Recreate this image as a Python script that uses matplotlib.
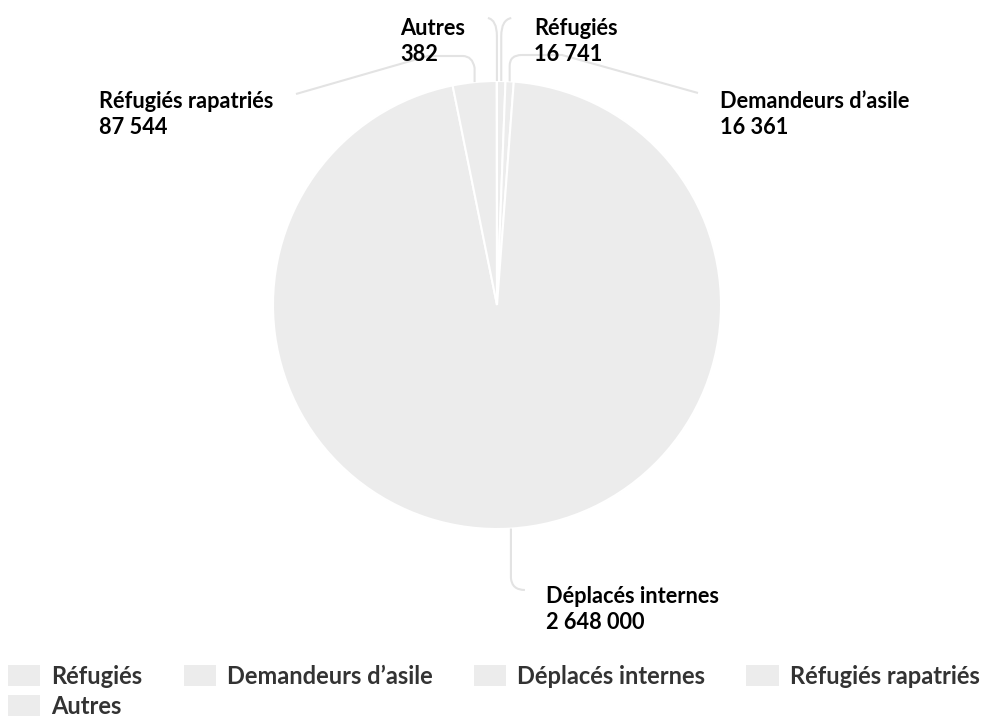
import matplotlib.pyplot as plt
from matplotlib.path import Path
from matplotlib.patches import PathPatch, Patch
import numpy as np

plt.rcParams['font.family'] = ['Lato', 'DejaVu Sans']

# data
categories = ["Réfugiés", "Demandeurs d’asile", "Déplacés internes", "Réfugiés rapatriés", "Autres"]
values = [16741, 16361, 2648000, 87544, 382]
value_labels = ["16 741", "16 361", "2 648 000", "87 544", "382"]

W, H = 986, 717
slice_color = "#ececec"
line_color = "#e3e3e3"


def Y(y):
    # pixel row (from top) -> axes y (from bottom)
    return H - y


fig = plt.figure(figsize=(W / 100, H / 100), dpi=100)
ax = fig.add_axes([0, 0, 1, 1])

cx, cy, r = 497, 305, 224
wedges, _ = ax.pie(values, colors=[slice_color] * len(values), startangle=90,
                   counterclock=False, center=(cx, Y(cy)), radius=r,
                   wedgeprops=dict(edgecolor="white", linewidth=1.5))
ax.set_xlim(0, W)
ax.set_ylim(0, H)
ax.set_aspect("equal")
ax.axis("off")

# label position (x, baseline of first line), pixel coords
label_pos = [(534, 35), (720, 108), (546, 603), (99, 108), (400, 35)]


def connector(sx, sy, i):
    # waypoints after the slice edge point (pixel coords, y from top); "c" = curve control
    if i == 0:    # Réfugiés
        pts = [(sx, 36), ("c", sx, 20), (sx + 10, 18)]
    elif i == 1:  # Demandeurs
        pts = [(sx, 66), ("c", sx, 55), (sx + 12, 55), (562, 55), (698, 93)]
    elif i == 2:  # Déplacés
        pts = [(sx, 578), ("c", sx + 1, 590), (sx + 14, 590)]
    elif i == 3:  # Rapatriés
        pts = [(sx, 68), ("c", sx - 2, 56), (sx - 12, 56), (428, 56), (296, 94)]
    else:         # Autres
        pts = [(sx, 36), ("c", sx, 20), (sx - 9, 18)]
    verts = [(sx, Y(sy))]
    codes = [Path.MOVETO]
    after_ctrl = False
    for p in pts:
        if p[0] == "c":
            verts.append((p[1], Y(p[2])))
            codes.append(Path.CURVE3)
            after_ctrl = True
        else:
            verts.append((p[0], Y(p[1])))
            codes.append(Path.CURVE3 if after_ctrl else Path.LINETO)
            after_ctrl = False
    return Path(verts, codes)


for i, w in enumerate(wedges):
    mid = np.deg2rad((w.theta1 + w.theta2) / 2)
    ex = w.center[0] + w.r * np.cos(mid)
    ey = w.center[1] + w.r * np.sin(mid)
    path = connector(ex, H - ey, i)
    ax.add_patch(PathPatch(path, fill=False, edgecolor=line_color, linewidth=1.5, zorder=1))
    lx, ly = label_pos[i]
    ax.text(lx, Y(ly), categories[i], fontsize=15.7, fontweight="bold", color="#000000", va="baseline", ha="left")
    ax.text(lx, Y(ly + 26), value_labels[i], fontsize=15.7, fontweight="bold", color="#000000", va="baseline", ha="left")

# legend: order so columns read row-wise like the original
order = [0, 4, 1, 2, 3]
handles = [Patch(facecolor=slice_color, edgecolor="none") for _ in order]
labels = [categories[k] for k in order]
fig.legend(handles, labels, loc="upper left", bbox_to_anchor=(8 / W, 1 - 665 / H),
           ncol=4, frameon=False, borderpad=0, borderaxespad=0,
           prop=dict(family="Lato", weight="bold", size=17), labelcolor="#333333",
           handlelength=1.36, handleheight=1.0, handletextpad=0.47,
           columnspacing=1.75, labelspacing=0.28)

fig.savefig("out.png", dpi=100)
